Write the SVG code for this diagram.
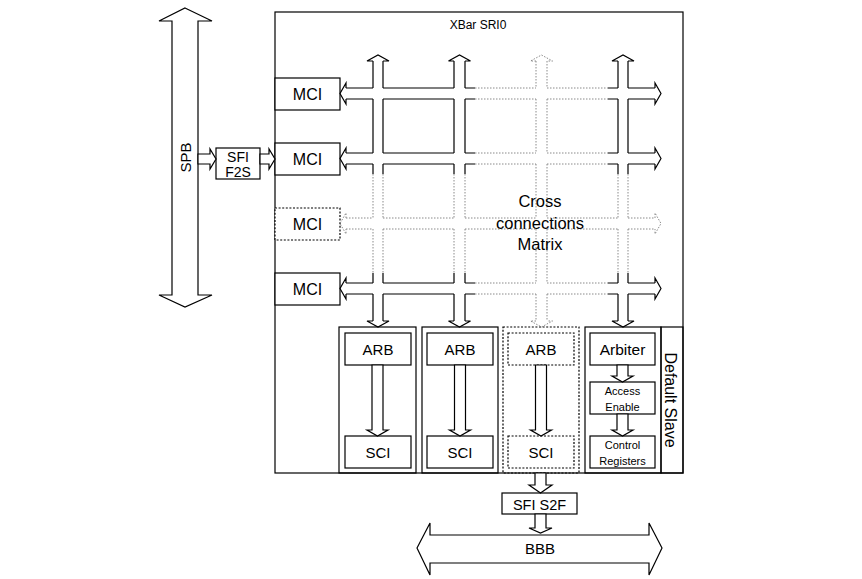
<svg xmlns="http://www.w3.org/2000/svg" width="862" height="579" viewBox="0 0 862 579">
<style>
.box{fill:#fff;stroke:#000;stroke-width:1.2}
.cont{fill:none;stroke:#000;stroke-width:1.2}
.dbox{fill:#fff;stroke:#000;stroke-width:1.2;stroke-dasharray:2 1.6}
.dcont{fill:none;stroke:#000;stroke-width:1.2;stroke-dasharray:2 1.6}
.arr{fill:#fff;stroke:#000;stroke-width:1.2;stroke-linejoin:miter}
.ln{fill:none;stroke:#000;stroke-width:1.2}
.dg{fill:none;stroke:#8a8a8a;stroke-width:1;stroke-dasharray:1.5 1.5}
text{font-family:"Liberation Sans",Arial,sans-serif;fill:#000;text-anchor:middle}
.t15{font-size:15px}
.t16{font-size:16px}
.t11{font-size:11px}
</style>
<rect width="862" height="579" fill="#fff"/>

<g id="xbar">
<rect class="cont" x="275" y="12" width="408" height="461"/>
<text x="478" y="29" style="font-size:12px">XBar SRI0</text>
</g>

<g id="spb">
<polygon class="arr" points="185,8 212,21 198,21 198,295 212,295 185,307 159,295 172,295 172,21 159,21"/>
<text class="t15" transform="translate(185,157.5) rotate(-90)" x="0" y="5.5">SPB</text>
</g>

<g id="sfi-f2s">
<rect class="box" x="216" y="148" width="44" height="31"/>
<text x="238" y="162" style="font-size:14px">SFI</text>
<text x="238" y="176.5" style="font-size:14px">F2S</text>
</g>

<g id="mci1"><rect class="box" x="275" y="78" width="65" height="32"/><text class="t16" x="307.5" y="100">MCI</text></g>
<g id="mci2"><rect class="box" x="275" y="143" width="65" height="32"/><text class="t16" x="307.5" y="165">MCI</text></g>
<g id="mci3"><rect class="dbox" x="275" y="208" width="65" height="32"/><text class="t16" x="307.5" y="230">MCI</text></g>
<g id="mci4"><rect class="box" x="275" y="273" width="65" height="32"/><text class="t16" x="307.5" y="295">MCI</text></g>

<g id="slave1">
<rect class="cont" x="339" y="327" width="77" height="146"/>
<rect class="box" x="345" y="333" width="66" height="32"/><text class="t15" x="378" y="355">ARB</text>
<rect class="box" x="345" y="436" width="66" height="32"/><text class="t15" x="378" y="458">SCI</text>
</g>
<g id="slave2">
<rect class="cont" x="422" y="327" width="76" height="146"/>
<rect class="box" x="427" y="333" width="66" height="32"/><text class="t15" x="460" y="355">ARB</text>
<rect class="box" x="427" y="436" width="66" height="32"/><text class="t15" x="460" y="458">SCI</text>
</g>
<g id="slave3">
<rect class="dcont" x="503" y="327" width="76" height="146"/>
<rect class="dbox" x="508" y="333" width="66" height="32"/><text class="t15" x="541" y="355">ARB</text>
<rect class="dbox" x="508" y="436" width="66" height="32"/><text class="t15" x="541" y="458">SCI</text>
</g>
<g id="default-slave">
<rect class="cont" x="585" y="327" width="76" height="146"/>
<rect class="cont" x="661" y="327" width="22" height="146"/>
<text class="t16" transform="translate(670,400) rotate(90)" x="0" y="5.5">Default Slave</text>
<rect class="box" x="590" y="333" width="65" height="32"/><text x="622.5" y="355" style="font-size:15.5px">Arbiter</text>
<rect class="box" x="590" y="382" width="65" height="32"/>
<text class="t11" x="622.5" y="394.5">Access</text>
<text class="t11" x="622.5" y="411">Enable</text>
<rect class="box" x="590" y="436" width="65" height="32"/>
<text class="t11" x="622.5" y="448.5">Control</text>
<text class="t11" x="622.5" y="464.5">Registers</text>
</g>

<g id="sfi-s2f">
<rect class="box" x="502" y="493" width="75" height="21"/>
<text x="539.5" y="510" style="font-size:14.5px">SFI S2F</text>
</g>

<g id="bbb">
<polygon class="arr" points="417,548 430,523 430,535 649,535 649,523 662,548 649,575 649,563 430,563 430,575"/>
<text class="t15" x="540" y="554">BBB</text>
</g>

<g id="connectors">
<polygon class="arr" points="198,154 210,154 210,149 216,159 210,169 210,164 198,164"/>
<polygon class="arr" points="260,154 269,154 269,149 275,159 269,169 269,164 260,164"/>

<path class="ln" d="M346,88H373M383,88H454M465,88H475M608,88H618M628,88H655
M346,99H373M383,99H454M465,99H475M608,99H618M628,99H655
M346,153H373M383,153H454M465,153H475M608,153H618M628,153H655
M346,164H373M383,164H454M465,164H475M608,164H618M628,164H655
M346,283H373M383,283H454M465,283H475M608,283H618M628,283H655
M346,294H373M383,294H454M465,294H475M608,294H618M628,294H655"/>
<path class="dg" d="M475,88H536M547,88H608M475,99H536M547,99H608
M475,153H536M547,153H608M475,164H536M547,164H608
M475,283H536M547,283H608M475,294H536M547,294H608
M346,218H373M383,218H454M465,218H536M547,218H618M628,218H655
M346,229H373M383,229H454M465,229H536M547,229H618M628,229H655"/>
<path class="ln" d="M373,61V88M373,99V153M373,164V174M373,273V283M373,294V321
M383,61V88M383,99V153M383,164V174M383,273V283M383,294V321
M454,61V88M454,99V153M454,164V174M454,273V283M454,294V321
M465,61V88M465,99V153M465,164V174M465,273V283M465,294V321
M618,61V88M618,99V153M618,164V174M618,273V283M618,294V321
M628,61V88M628,99V153M628,164V174M628,273V283M628,294V321"/>
<path class="dg" d="M373,174V218M373,229V273M383,174V218M383,229V273
M454,174V218M454,229V273M465,174V218M465,229V273
M618,174V218M618,229V273M628,174V218M628,229V273
M536,61V88M536,99V153M536,164V218M536,229V283M536,294V321
M547,61V88M547,99V153M547,164V218M547,229V283M547,294V321"/>
<path class="ln" d="M373,61H367L378,55L389,61H383M454,61H448.5L459.5,55L470.5,61H465M618,61H612L623,55L634,61H628"/>
<path class="dg" d="M536,61H530.5L541.5,55L552.5,61H547"/>
<path class="ln" d="M373,321H367L378,327L389,321H383M454,321H448.5L459.5,327L470.5,321H465M618,321H612L623,327L634,321H628"/>
<path class="dg" d="M536,321H530.5L541.5,327L552.5,321H547"/>
<path class="ln" d="M346,88V83L340,93.5L346,104V99M346,153V148L340,158.5L346,169V164M346,283V278L340,288.5L346,299V294
M655,88V83L661,93.5L655,104V99M655,153V148L661,158.5L655,169V164M655,283V278L661,288.5L655,299V294"/>
<path class="dg" d="M346,218V213L340,223.5L346,234V229M655,218V213L661,223.5L655,234V229"/>

<polygon class="arr" points="372,365 372,430 367,430 377.5,436 388,430 383,430 383,365"/>
<polygon class="arr" points="454.5,365 454.5,430 449.5,430 460,436 470.5,430 465.5,430 465.5,365"/>
<polygon class="arr" points="535.5,365 535.5,430 530.5,430 541,436 551.5,430 546.5,430 546.5,365"/>
<polygon class="arr" points="617,365 617,376 612,376 622.5,382 633,376 628,376 628,365"/>
<polygon class="arr" points="617,414 617,430 612,430 622.5,436 633,430 628,430 628,414"/>

<polygon class="arr" points="535,473 535,485 529,485 540.5,493 552,485 546,485 546,473"/>
<polygon class="arr" points="535,514 535,528 529,528 540.5,533 552,528 546,528 546,514"/>
</g>

<g id="matrix-label">
<text x="540" y="207" style="font-size:16.5px">Cross</text>
<text x="540" y="229" style="font-size:16.5px">connections</text>
<text x="540" y="250" style="font-size:16.5px">Matrix</text>
</g>
</svg>
